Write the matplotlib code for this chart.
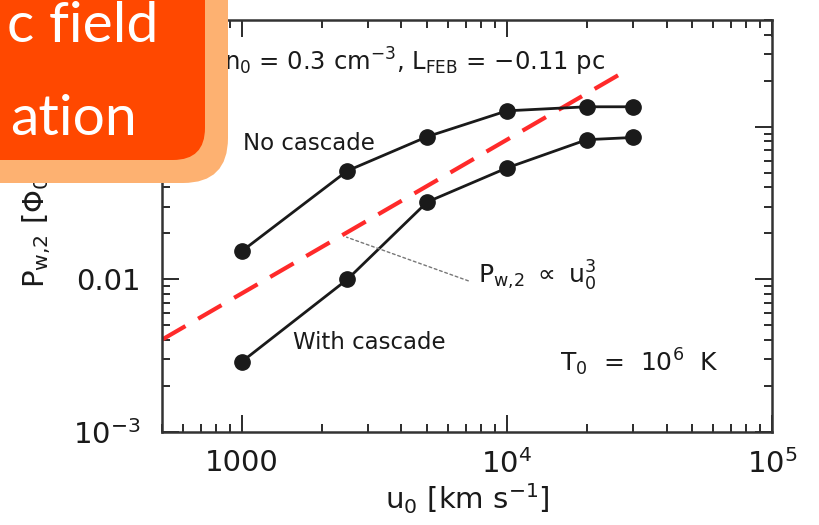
import numpy as np
import matplotlib
matplotlib.use('Agg')
from matplotlib import pyplot as plt
from matplotlib.patches import FancyBboxPatch
from matplotlib.transforms import IdentityTransform

# data
u0 = [1000, 2500, 5000, 10000, 20000, 30000]
p_no_cascade = [0.0153, 0.0514, 0.086, 0.127, 0.135, 0.135]
p_with_cascade = [0.00289, 0.0100, 0.0321, 0.0537, 0.0822, 0.085]
fit_u0 = [500, 27800]
fit_p = [0.00403, 0.230]

xticks = [1000, 1e4, 1e5]
xticklabels = ['1000', '$10^4$', '$10^5$']
yticks = [1e-3, 1e-2, 1e-1]
yticklabels = ['$10^{-3}$', '0.01', '0.1']

plt.rcParams['font.family'] = ['DejaVu Sans']
plt.rcParams['mathtext.default'] = 'regular'

ink = '#1a1a1a'
fig = plt.figure(figsize=(8.2, 5.25), dpi=100)
ax = fig.add_axes([0.1976, 0.177, 0.744, 0.785])

ax.plot(fit_u0, fit_p, color='#ff2a2a', lw=3, dashes=(6.5, 3.5), zorder=2)
ax.plot(u0, p_no_cascade, '-o', color=ink, lw=2, ms=11, zorder=3)
ax.plot(u0, p_with_cascade, '-o', color=ink, lw=2, ms=11, zorder=3)

ax.set_xscale('log')
ax.set_yscale('log')
ax.set_xlim(500, 1e5)
ax.set_ylim(1e-3, 0.5)
ax.set_xticks(xticks, xticklabels)
ax.set_yticks(yticks, yticklabels)
ax.tick_params(which='both', direction='in', top=True, right=True, colors=ink, width=1.3)
ax.tick_params(which='major', length=12, labelsize=21)
ax.tick_params(axis='x', which='major', pad=12)
ax.tick_params(axis='y', which='major', pad=15)
ax.tick_params(which='minor', length=6)
for s in ax.spines.values():
    s.set_linewidth(1.8)
    s.set_color('#333333')

ax.set_xlabel('$u_0$ [km s$^{-1}$]', fontsize=21, color=ink, labelpad=2)
ax.set_ylabel('$P_{w{,}2}$ [$\\Phi_0$]', fontsize=21, color=ink, labelpad=15)

ax.text(0.133, 0.701, 'No cascade', transform=ax.transAxes, fontsize=16.5, color=ink, va='center')
ax.text(0.215, 0.218, 'With cascade', transform=ax.transAxes, fontsize=16.5, color=ink, va='center')
ax.text(0.652, 0.17, '$T_0$  =  $10^6$  K', transform=ax.transAxes, fontsize=18, color=ink, va='center')
ax.text(0.726, 0.898, '$n_0$ = 0.3 cm$^{-3}$, $L_{FEB}$ = −0.11 pc', transform=ax.transAxes,
        fontsize=17.5, color=ink, ha='right', va='center')
ax.text(0.518, 0.38, '$P_{w{,}2}$ $\\propto$ $u_0^3$', transform=ax.transAxes, fontsize=18, color=ink,
        va='center')
# leader line from label to the fit
ax.annotate('', xy=(2483, 0.0189), xytext=(0.502, 0.367), textcoords='axes fraction',
            arrowprops=dict(arrowstyle='-', color='#777777', lw=1, ls=(0, (2, 2)),
                            shrinkA=0, shrinkB=0))

# orange callout overlapping the top-left corner
outer = FancyBboxPatch((-80, 342), 308, 300, boxstyle='round,pad=0,rounding_size=45',
                       fc='#fdb171', ec='none', transform=IdentityTransform(), zorder=10)
inner = FancyBboxPatch((-80, 365), 285, 280, boxstyle='round,pad=0,rounding_size=32',
                       fc='#ff4800', ec='none', transform=IdentityTransform(), zorder=11)
fig.add_artist(outer)
fig.add_artist(inner)
fig.text(158 / 820, 1 - 42 / 525, 'c field', color='white', fontsize=41, family='Lato',
         ha='right', va='baseline', zorder=12)
fig.text(137 / 820, 1 - 135 / 525, 'ation', color='white', fontsize=41, family='Lato',
         ha='right', va='baseline', zorder=12)

fig.savefig('out.png', dpi=100)
